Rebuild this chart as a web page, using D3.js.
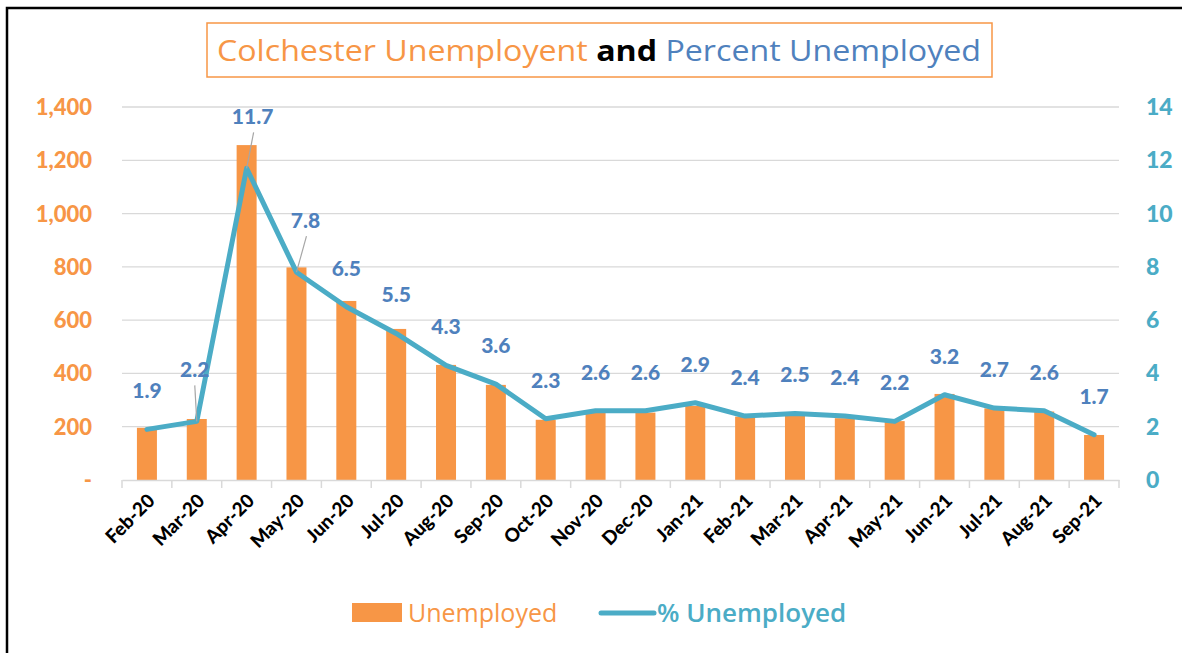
<!DOCTYPE html>
<html>
<head>
<meta charset="utf-8">
<script src="https://cdn.jsdelivr.net/npm/d3@7"></script>
<style>
  body { margin: 0; background: #fff; }
  svg { display: block; font-family: Lato, "Open Sans", sans-serif; }
</style>
</head>
<body>
<div id="chart"></div>
<script>
// data
const months = ["Feb-20","Mar-20","Apr-20","May-20","Jun-20","Jul-20","Aug-20","Sep-20","Oct-20","Nov-20",
  "Dec-20","Jan-21","Feb-21","Mar-21","Apr-21","May-21","Jun-21","Jul-21","Aug-21","Sep-21"];
const unemployed = [196, 229, 1257, 798, 672, 567, 432, 357, 226, 252,
  253, 278, 238, 244, 232, 221, 323, 269, 257, 169];
const pctUnemployed = [1.9, 2.2, 11.7, 7.8, 6.5, 5.5, 4.3, 3.6, 2.3, 2.6,
  2.6, 2.9, 2.4, 2.5, 2.4, 2.2, 3.2, 2.7, 2.6, 1.7];
const leftTicks = [0, 200, 400, 600, 800, 1000, 1200, 1400];
const rightTicks = [0, 2, 4, 6, 8, 10, 12, 14];
// labels pulled up with a leader line
const leaderIdx = [1, 2, 3];

const W = 1182, H = 653;
const orange = "#F79646", teal = "#4BACC6", blue = "#4F81BD", grid = "#d9d9d9";
const plot = { left: 122, right: 1119, top: 107, bottom: 480 };

const svg = d3.select("#chart").append("svg")
  .attr("width", W).attr("height", H);

// outer frame (top + left only visible)
svg.append("path")
  .attr("d", `M7,${H} L7,8 L${W},8`)
  .attr("fill", "none").attr("stroke", "#000").attr("stroke-width", 2.5);

// title box
svg.append("rect")
  .attr("x", 207).attr("y", 23).attr("width", 785).attr("height", 54)
  .attr("fill", "#fff").attr("stroke", orange).attr("stroke-width", 1.5);

const title = svg.append("text")
  .attr("x", 599).attr("y", 61)
  .attr("text-anchor", "middle")
  .style("font-family", "'Open Sans', sans-serif")
  .style("font-size", "29px");
title.append("tspan").attr("fill", orange).text("Colchester Unemployent ");
title.append("tspan").attr("fill", "#000").style("font-weight", "bold").text("and ");
title.append("tspan").attr("fill", blue).text("Percent Unemployed");
title.attr("textLength", 764).attr("lengthAdjust", "spacingAndGlyphs");

// scales
const x = d3.scaleBand().domain(months).range([plot.left, plot.right]).paddingInner(0).paddingOuter(0);
const yL = d3.scaleLinear().domain([0, 1400]).range([plot.bottom, plot.top]);
const yR = d3.scaleLinear().domain([0, 14]).range([plot.bottom, plot.top]);

// gridlines
svg.append("g")
  .selectAll("line")
  .data(leftTicks.filter(d => d > 0))
  .join("line")
  .attr("x1", plot.left).attr("x2", plot.right)
  .attr("y1", d => yL(d)).attr("y2", d => yL(d))
  .attr("stroke", grid).attr("stroke-width", 1.3);

// left axis labels
svg.append("g")
  .selectAll("text")
  .data(leftTicks)
  .join("text")
  .attr("x", 92).attr("y", d => yL(d) + 8)
  .attr("text-anchor", "end")
  .attr("fill", orange)
  .style("font-size", "22px").style("font-weight", 900)
  .text(d => d === 0 ? "-" : d3.format(",")(d));

// right axis labels
svg.append("g")
  .selectAll("text")
  .data(rightTicks)
  .join("text")
  .attr("x", 1146).attr("y", d => yR(d) + 8)
  .attr("text-anchor", "start")
  .attr("fill", teal)
  .style("font-size", "23px").style("font-weight", 900)
  .text(d => d);

// bars
const barW = 20;
svg.append("g")
  .selectAll("rect")
  .data(unemployed)
  .join("rect")
  .attr("x", (d, i) => x(months[i]) + x.bandwidth() / 2 - barW / 2)
  .attr("y", d => yL(d))
  .attr("width", barW)
  .attr("height", d => yL(0) - yL(d))
  .attr("fill", orange);

// category axis
const xAxis = svg.append("g")
  .attr("transform", `translate(0,${plot.bottom})`)
  .call(d3.axisBottom(x).tickSize(8).tickSizeOuter(0).tickFormat(""));
xAxis.select(".domain").attr("stroke", grid).attr("stroke-width", 1.5);
xAxis.selectAll(".tick line")
  .attr("stroke", grid).attr("stroke-width", 1.5)
  .attr("transform", `translate(${-x.bandwidth() / 2},0)`);
xAxis.append("line")
  .attr("x1", plot.right).attr("x2", plot.right).attr("y1", 0).attr("y2", 8)
  .attr("stroke", grid).attr("stroke-width", 1.5);

svg.append("g")
  .selectAll("text")
  .data(months)
  .join("text")
  .attr("transform", d => `translate(${x(d) + x.bandwidth() / 2 + 9},${plot.bottom + 22}) rotate(-45)`)
  .attr("text-anchor", "end")
  .attr("fill", "#000")
  .style("font-size", "19px").style("font-weight", 900)
  .text(d => d);

// percent line
const line = d3.line()
  .x((d, i) => x(months[i]) + x.bandwidth() / 2)
  .y(d => yR(d));
svg.append("path")
  .datum(pctUnemployed)
  .attr("d", line)
  .attr("fill", "none")
  .attr("stroke", teal)
  .attr("stroke-width", 5)
  .attr("stroke-linejoin", "round")
  .attr("stroke-linecap", "round");

// data labels
const labelOffsetX = i => (i === 2 ? 6 : i === 3 ? 9 : i === 1 ? -2 : 0);
const labelOffsetY = i => (leaderIdx.includes(i) ? -44 : -31);

svg.append("g")
  .selectAll("line")
  .data(leaderIdx)
  .join("line")
  .attr("x1", i => x(months[i]) + x.bandwidth() / 2 + labelOffsetX(i) + (i === 1 ? 0 : 1))
  .attr("y1", i => yR(pctUnemployed[i]) + labelOffsetY(i) + 8)
  .attr("x2", i => x(months[i]) + x.bandwidth() / 2)
  .attr("y2", i => yR(pctUnemployed[i]))
  .attr("stroke", "#a6a6a6").attr("stroke-width", 1.2);

svg.append("g")
  .selectAll("text")
  .data(pctUnemployed)
  .join("text")
  .attr("x", (d, i) => x(months[i]) + x.bandwidth() / 2 + labelOffsetX(i))
  .attr("y", (d, i) => yR(d) + labelOffsetY(i))
  .attr("text-anchor", "middle")
  .attr("fill", blue)
  .style("font-size", "21px").style("font-weight", 900)
  .text(d => d3.format(".1f")(d));

// legend
const legend = svg.append("g").attr("transform", "translate(0,613)");
legend.append("rect")
  .attr("x", 352).attr("y", -10).attr("width", 50).attr("height", 19)
  .attr("fill", orange);
legend.append("text")
  .attr("x", 408).attr("y", 9)
  .attr("fill", orange)
  .style("font-family", "'Open Sans', sans-serif")
  .style("font-size", "25px")
  .text("Unemployed");
legend.append("line")
  .attr("x1", 601).attr("x2", 654).attr("y1", 0).attr("y2", 0)
  .attr("stroke", teal).attr("stroke-width", 5).attr("stroke-linecap", "round");
legend.append("text")
  .attr("x", 657).attr("y", 9)
  .attr("fill", teal)
  .style("font-family", "'Open Sans', sans-serif")
  .style("font-size", "26px").style("font-weight", 600)
  .text("% Unemployed");
</script>
</body>
</html>
